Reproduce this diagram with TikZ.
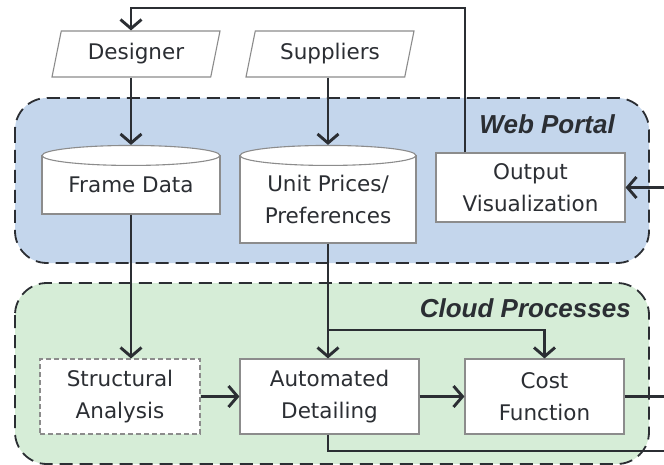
\documentclass[tikz,border=0pt]{standalone}
\usepackage{fontspec}
\setmainfont{DejaVu Sans}
\newfontfamily\regionfont{Liberation Sans}
\usetikzlibrary{arrows.meta,shapes.geometric,positioning}
\definecolor{wpblue}{RGB}{196,214,236}
\definecolor{cpgreen}{RGB}{214,237,215}
\definecolor{ink}{RGB}{43,46,51}
\definecolor{edgegray}{RGB}{140,140,140}
\tikzstyle{flow} = [line width=2.9pt,-{Straight Barb[length=9pt,width=21pt]},color=ink]
\tikzstyle{wire} = [line width=2.9pt,color=ink]
\tikzstyle{box} = [draw=edgegray,line width=1.1pt,fill=white,text=ink,align=center,inner sep=0pt,font=\fontsize{21.5}{32}\selectfont]
\tikzstyle{party} = [box,trapezium,trapezium left angle=66,trapezium right angle=114,trapezium stretches body,minimum width=168pt,minimum height=46pt]
\tikzstyle{region} = [draw=ink,line width=1.8pt,dash pattern=on 13pt off 7pt,rounded corners=32pt]
\tikzstyle{regionlabel} = [inner sep=0pt,anchor=base east,text=ink,font=\regionfont\fontsize{26}{30}\selectfont\bfseries\itshape]

\begin{document}
\begin{tikzpicture}[x=1pt, y=-1pt]
    \useasboundingbox (0,0) rectangle (664,465);

    % Regions
    \draw[region, fill=wpblue] (15,98) rectangle (649,263);
    \draw[region, fill=cpgreen] (15,283) rectangle (649,464);
    \node[regionlabel] (wplabel) at (615,134) {Web Portal};
    \node[regionlabel] (cplabel) at (631,317) {Cloud Processes};

    % Actors
    \node[party] (des) at (136,54) {Designer};
    \node[party] (sup) at (330,54) {Suppliers};

    % Web portal
    \node[box, minimum width=178pt, minimum height=58pt] (fd) at (131,185) {Frame Data};
    \node[box, ellipse, minimum width=178pt, minimum height=20pt] (fdtop) at (fd.north) {};
    \node[box, minimum width=176pt, minimum height=87pt] (up) at (328,199.5) {Unit Prices/\\Preferences};
    \node[box, ellipse, minimum width=176pt, minimum height=20pt] (uptop) at (up.north) {};
    \node[box, minimum width=189pt, minimum height=69pt] (ov) at (530.5,187.5) {Output\\Visualization};

    % Cloud processes
    \node[box, dash pattern=on 5pt off 3pt, minimum width=160pt, minimum height=75pt] (sa) at (120,396.5) {Structural\\Analysis};
    \node[box, minimum width=179pt, minimum height=75pt] (ad) at (329.5,396.5) {Automated\\Detailing};
    \node[box, minimum width=159pt, minimum height=75pt] (cf) at (544.5,396.5) {Cost\\Function};

    % Edge points
    \coordinate (fbR) at (465,8);
    \coordinate (fbL) at (131,8);
    \coordinate (ovin) at (664,187.5);
    \coordinate (cfout) at (664,396.5);
    \coordinate (adout) at (664,451);
    \coordinate (split) at (0,330);

    % Connectors
    \draw[flow] (ov.north -| fbR) -- (fbR) -- (fbL) -- (des.north -| fbL);
    \draw[flow] (des.south -| fd.north) -- (fdtop.north);
    \draw[flow] (sup.south -| up.north) -- (uptop.north);
    \draw[flow] (fd.south) -- (fd.south |- sa.north);
    \draw[flow] (up.south) -- (up.south |- ad.north);
    \draw[flow] (up.south |- split) -| (cf.north);
    \draw[flow] (sa.east) -- (ad.west);
    \draw[flow] (ad.east) -- (cf.west);
    \draw[wire] (cf.east) -- (cfout);
    \draw[wire] (ad.south -| up.south) |- (adout);
    \draw[flow] (ovin) -- (ov.east);
\end{tikzpicture}
\end{document}
